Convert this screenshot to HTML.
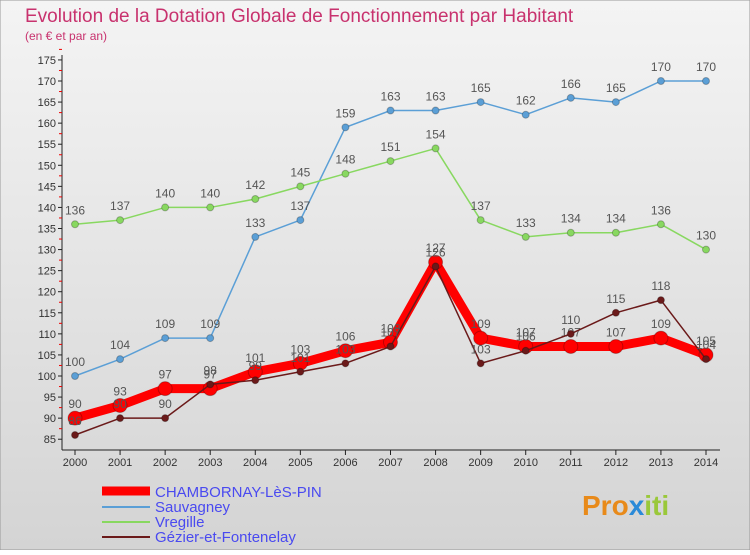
<!DOCTYPE html>
<html><head><meta charset="utf-8"><style>
body{margin:0;width:750px;height:550px;overflow:hidden;font-family:"Liberation Sans",sans-serif}
</style></head><body>
<svg width="750" height="550" xmlns="http://www.w3.org/2000/svg">
<defs><linearGradient id="bg" x1="0" y1="0" x2="0" y2="1"><stop offset="0" stop-color="#f4f4f4"/><stop offset="1" stop-color="#d4d4d4"/></linearGradient></defs>
<rect x="0" y="0" width="750" height="550" fill="url(#bg)" stroke="#999"/>
<text x="25" y="22" font-size="19" fill="#c8326e">Evolution de la Dotation Globale de Fonctionnement par Habitant</text>
<text x="25" y="40" font-size="12" fill="#c8326e">(en € et par an)</text>
<g id="axes"></g><g id="series"></g>
<g font-size="15" fill="#4a4af0">
<line x1="102" y1="491" x2="150" y2="491" stroke="#ff0000" stroke-width="9"/>
<text x="155" y="497">CHAMBORNAY-LèS-PIN</text>
<line x1="102" y1="507" x2="150" y2="507" stroke="#5b9fd6" stroke-width="2"/>
<text x="155" y="512">Sauvagney</text>
<line x1="102" y1="522" x2="150" y2="522" stroke="#88d860" stroke-width="2"/>
<text x="155" y="527">Vregille</text>
<line x1="102" y1="537" x2="150" y2="537" stroke="#6b1a1a" stroke-width="2"/>
<text x="155" y="542">Gézier-et-Fontenelay</text>
</g>
<text x="582" y="515" font-size="28" font-weight="bold" fill="#e88a1a">Pro<tspan fill="#2a8ad8">x</tspan><tspan fill="#9ac83a">iti</tspan></text>
</svg>
<script>
const years=[2000,2001,2002,2003,2004,2005,2006,2007,2008,2009,2010,2011,2012,2013,2014];
const yTicks=[85,90,95,100,105,110,115,120,125,130,135,140,145,150,155,160,165,170,175];
const chambornay=[90,93,97,97,101,103,106,108,127,109,107,107,107,109,105];
const sauvagney=[100,104,109,109,133,137,159,163,163,165,162,166,165,170,170];
const vregille=[136,137,140,140,142,145,148,151,154,137,133,134,134,136,130];
const gezier=[86,90,90,98,99,101,103,107,126,103,106,110,115,118,104];
const NS="http://www.w3.org/2000/svg";
const x=i=>75+i*(706-75)/14;
const y=v=>376-(v-100)*(295/70);
function mk(t,a,p){const e=document.createElementNS(NS,t);for(const k in a)e.setAttribute(k,a[k]);p.appendChild(e);return e;}
const ax=document.getElementById('axes');
const yl=mk('line',{x1:62,y1:55,x2:62,y2:450,stroke:'#222'},ax);


const xl=mk('line',{x1:62,y1:450,x2:720,y2:450,stroke:'#222'},ax);


yTicks.forEach(v=>{
  mk('line',{x1:58,y1:y(v),x2:62,y2:y(v),stroke:'#222'},ax);
  mk('line',{x1:59,y1:y(v+2.5),x2:62,y2:y(v+2.5),stroke:'#e00'},ax);
  const t=mk('text',{x:56,y:y(v)+4,'text-anchor':'end','font-size':11,fill:'#333'},ax);
  
  
  t.textContent=v;
});
years.forEach((yr,i)=>{
  mk('line',{x1:x(i),y1:450,x2:x(i),y2:455,stroke:'#222'},ax);
  const t=mk('text',{x:x(i),y:466,'text-anchor':'middle','font-size':11,fill:'#333'},ax);
  
  
  t.textContent=yr;
});
const sg=document.getElementById('series');
function draw(name,data,color,w,r){
  const g=mk('g',{},sg);
  
  
  mk('polyline',{points:data.map((v,i)=>x(i)+','+y(v)).join(' '),fill:'none',stroke:color,'stroke-width':w,'stroke-linejoin':'round'},g);
  data.forEach((v,i)=>{
    const c=mk('circle',{cx:x(i),cy:y(v),r:r,fill:color,stroke:'rgba(0,0,0,0.25)'},g);
    
    
    const t=mk('text',{x:x(i),y:y(v)-10,'text-anchor':'middle','font-size':12,fill:'#555'},g);
    
    
    t.textContent=v;
  });
}
draw('sauvagney',sauvagney,'#5b9fd6',1.5,3.5);
draw('vregille',vregille,'#88d860',1.5,3.5);
draw('chambornay',chambornay,'#ff0000',9,7);
draw('gezier',gezier,'#6b1a1a',1.5,3.5);
</script>
</body></html>
